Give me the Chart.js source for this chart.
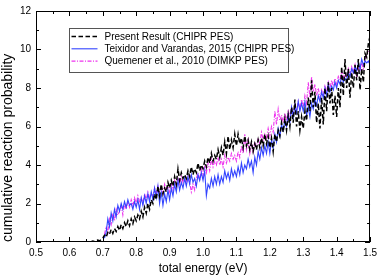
<!DOCTYPE html>
<html>
<head>
<meta charset="utf-8">
<script src="https://cdn.jsdelivr.net/npm/chart.js@4"></script>
<style>
  html, body { margin: 0; padding: 0; background: #fff; }
  #wrap { width: 382px; height: 276px; }
</style>
</head>
<body>
<div id="wrap"><canvas id="chart" width="382" height="276"></canvas></div>
<script>
// total energy grid (eV)
const energy = [
  0.600,0.605,0.610,0.615,0.620,0.625,0.630,0.635,0.640,0.645,
  0.650,0.655,0.660,0.665,0.670,0.675,0.680,0.685,0.690,0.695,
  0.700,0.705,0.710,0.715,0.720,0.725,0.730,0.735,0.740,0.745,
  0.750,0.755,0.760,0.765,0.770,0.775,0.780,0.785,0.790,0.795,
  0.800,0.805,0.810,0.815,0.820,0.825,0.830,0.835,0.840,0.845,
  0.850,0.855,0.860,0.865,0.870,0.875,0.880,0.885,0.890,0.895,
  0.900,0.905,0.910,0.915,0.920,0.925,0.930,0.935,0.940,0.945,
  0.950,0.955,0.960,0.965,0.970,0.975,0.980,0.985,0.990,0.995,
  1.000,1.005,1.010,1.015,1.020,1.025,1.030,1.035,1.040,1.045,
  1.050,1.055,1.060,1.065,1.070,1.075,1.080,1.085,1.090,1.095,
  1.100,1.105,1.110,1.115,1.120,1.125,1.130,1.135,1.140,1.145,
  1.150,1.155,1.160,1.165,1.170,1.175,1.180,1.185,1.190,1.195,
  1.200,1.205,1.210,1.215,1.220,1.225,1.230,1.235,1.240,1.245,
  1.250,1.255,1.260,1.265,1.270,1.275,1.280,1.285,1.290,1.295,
  1.300,1.305,1.310,1.315,1.320,1.325,1.330,1.335,1.340,1.345,
  1.350,1.355,1.360,1.365,1.370,1.375,1.380,1.385,1.390,1.395,
  1.400,1.405,1.410,1.415,1.420,1.425,1.430,1.435,1.440,1.445,
  1.450,1.455,1.460,1.465,1.470,1.475,1.480,1.485,1.490,1.495,
  1.500
];

// Present Result (CHIPR PES)
const present = [
  0,0,0,0,0,0,0,0,0,0,
  0,0,0,0.02,0.05,0.03,0.08,0.1,0.06,0.12,
  0.2,0.35,0.25,0.5,0.4,0.65,0.45,0.7,0.55,0.8,
  0.6,0.9,0.7,1.0,0.8,1.1,0.85,1.2,0.95,1.3,
  1.1,1.4,1.2,1.6,1.3,1.8,1.5,2.0,1.7,2.2,
  2.0,2.5,2.2,2.9,2.4,3.0,2.5,2.8,2.6,3.1,
  2.8,3.2,2.9,3.4,3.0,3.8,3.2,3.6,3.3,3.5,
  3.3,3.7,3.4,3.9,3.5,3.8,3.6,4.1,3.7,4.0,
  3.8,4.2,3.9,4.4,4.1,4.6,4.2,4.5,4.3,4.8,
  4.4,4.9,4.5,5.2,4.6,5.5,4.8,5.3,4.9,5.6,
  5.0,5.6,5.1,5.4,4.9,5.5,5.0,5.3,4.8,5.2,
  4.7,5.1,4.8,5.3,4.9,5.4,5.0,5.6,5.1,5.5,
  4.9,5.4,4.7,5.6,5.2,5.8,5.5,6.2,5.7,6.4,
  5.8,6.6,6.0,7.0,6.2,7.4,6.0,6.8,5.8,6.5,
  5.9,6.8,6.3,7.5,6.8,8.4,7.0,7.8,6.2,7.2,
  5.9,7.5,6.1,8.0,6.8,8.3,7.2,8.0,6.6,7.6,
  6.5,8.0,7.0,9.1,7.6,9.5,8.0,9.0,7.5,8.8,
  8.0,9.2,8.4,9.5,7.9,9.0,8.3,9.8,9.6,10.3,
  10.7
];

// Teixidor and Varandas, 2015 (CHIPR PES)
const teixidor = [
  null,null,null,null,null,null,null,null,null,null,
  null,null,null,null,null,null,null,null,null,null,
  null,0.2,0.5,1.2,0.8,1.5,1.1,1.7,1.3,1.9,
  1.6,2.0,1.7,2.1,1.8,2.2,1.9,2.0,1.7,2.1,
  1.8,2.2,1.7,2.3,1.9,2.4,2.0,2.5,2.1,2.6,
  2.2,2.8,2.3,2.9,2.0,2.6,1.9,2.5,2.1,2.7,
  2.2,2.8,2.4,3.0,2.6,3.2,2.7,3.1,2.8,3.3,
  2.9,3.4,3.0,3.5,3.1,3.3,2.9,3.5,3.2,3.6,
  3.2,3.7,2.4,3.0,2.8,3.3,2.9,3.4,3.0,3.5,
  3.0,3.4,3.1,3.7,3.3,3.6,3.2,3.8,3.4,3.7,
  3.4,3.9,3.5,4.1,3.6,4.0,3.8,4.3,3.9,4.2,
  3.6,4.4,4.0,4.7,4.3,4.9,4.5,5.0,4.6,5.2,
  4.6,5.3,4.9,5.6,5.2,5.9,5.5,6.1,5.8,6.3,
  6.0,6.6,6.2,7.0,6.5,7.1,6.7,7.3,6.8,7.2,
  6.8,7.3,6.6,7.0,6.5,7.2,6.9,7.4,7.1,7.6,
  7.3,7.8,7.5,8.0,7.6,8.2,7.8,8.1,7.9,8.3,
  8.0,8.4,8.2,8.6,8.3,8.5,8.4,8.8,8.6,9.0,
  8.8,9.1,8.9,9.3,9.0,9.5,9.2,9.4,9.3,9.4,
  9.2
];

// Quemener et al., 2010 (DIMKP PES)
const quemener = [
  null,null,null,null,null,null,null,null,null,null,
  null,null,null,null,null,null,null,null,null,null,
  null,0.4,0.8,0.5,1.2,0.9,1.5,1.1,1.7,1.4,
  1.6,1.9,1.4,2.0,1.7,2.1,1.8,2.2,1.9,2.3,
  2.0,2.4,2.1,2.3,2.0,2.5,2.2,2.6,2.3,2.5,
  2.4,2.8,2.5,2.9,2.6,2.8,2.5,3.0,2.7,2.9,
  2.6,3.0,2.7,3.2,2.9,3.3,3.0,3.4,3.1,3.3,
  3.0,3.4,3.1,2.6,3.0,2.7,3.3,3.6,3.2,3.8,
  3.4,3.9,3.6,4.1,3.7,4.3,3.9,4.2,4.0,4.4,
  4.0,4.3,3.9,4.5,4.1,4.4,4.2,4.6,4.3,4.5,
  4.2,4.7,4.4,5.0,4.6,5.6,4.8,5.3,4.6,5.1,
  4.7,5.2,4.9,5.4,5.1,5.7,5.3,5.6,5.4,5.9,
  5.5,6.0,5.7,6.8,6.1,6.9,6.3,6.6,6.2,6.7,
  6.3,6.8,6.5,7.0,6.6,7.2,6.8,7.3,6.9,7.4,
  7.0,7.6,7.2,8.3,7.5,8.6,7.8,8.2,7.6,8.0,
  7.5,7.9,7.6,8.1,7.8,8.3,8.0,8.4,8.1,8.5,
  8.2,8.6,8.4,8.9,8.5,8.8,8.6,9.0,8.7,9.1,
  8.8,9.2,8.6,9.1,8.9,9.3,9.0,9.5,9.7,9.9,
  9.9
];

const seriesLabels = [
  'Present Result (CHIPR PES)',
  'Teixidor and Varandas, 2015 (CHIPR PES)',
  'Quemener et al., 2010 (DIMKP PES)'
];

const FONT = "'Liberation Sans', Arial, Helvetica, sans-serif";

function toPoints(ys) {
  return energy.map((e, i) => ({x: e, y: ys[i]}));
}

// inward ticks on all four sides + full frame
const frameTicks = {
  id: 'frameTicks',
  afterDraw(chart) {
    const {ctx, chartArea: a, scales: {x, y}} = chart;
    ctx.save();
    ctx.strokeStyle = '#000';
    ctx.lineWidth = 1;
    ctx.strokeRect(Math.round(a.left) + 0.5, Math.round(a.top) + 0.5,
                   Math.round(a.right - a.left) - 1, Math.round(a.bottom - a.top) - 1);

    const xt = x.ticks.map(t => t.value);
    const yt = y.ticks.map(t => t.value);
    ctx.beginPath();
    const xTick = (v, len) => {
      const px = Math.round(x.getPixelForValue(v)) + 0.5;
      ctx.moveTo(px, a.bottom); ctx.lineTo(px, a.bottom - len);
      ctx.moveTo(px, a.top); ctx.lineTo(px, a.top + len);
    };
    const yTick = (v, len) => {
      const py = Math.round(y.getPixelForValue(v)) + 0.5;
      ctx.moveTo(a.left, py); ctx.lineTo(a.left + len, py);
      ctx.moveTo(a.right, py); ctx.lineTo(a.right - len, py);
    };
    xt.forEach((v, i) => {
      xTick(v, 5);
      if (i < xt.length - 1) xTick((v + xt[i + 1]) / 2, 3);
    });
    yt.forEach((v, i) => {
      yTick(v, 5);
      if (i < yt.length - 1) yTick((v + yt[i + 1]) / 2, 3);
    });
    ctx.stroke();
    ctx.restore();
  }
};

// legend box inside the plot
const insideLegend = {
  id: 'insideLegend',
  afterDraw(chart) {
    const {ctx, chartArea: a} = chart;
    const bx = Math.round(a.left + 33) + 0.5;
    const by = Math.round(a.top + 17) + 0.5;
    const bw = 219, bh = 44;
    ctx.save();
    ctx.fillStyle = '#fff';
    ctx.fillRect(bx, by, bw, bh);
    ctx.strokeStyle = '#555';
    ctx.lineWidth = 1;
    ctx.strokeRect(bx, by, bw, bh);
    ctx.font = '10px ' + FONT;
    ctx.textBaseline = 'middle';
    chart.data.datasets.forEach((ds, i) => {
      const ry = by + 8 + i * 12.3;
      ctx.beginPath();
      ctx.strokeStyle = ds.borderColor;
      ctx.lineWidth = ds.borderWidth;
      ctx.setLineDash(ds.borderDash || []);
      ctx.moveTo(bx + 2, ry);
      ctx.lineTo(bx + 28, ry);
      ctx.stroke();
      ctx.setLineDash([]);
      ctx.fillStyle = '#000';
      ctx.fillText(ds.label, bx + 35, ry + 0.5);
    });
    ctx.restore();
  }
};

new Chart(document.getElementById('chart'), {
  type: 'line',
  data: {
    datasets: [{
      label: seriesLabels[0],
      data: toPoints(present),
      borderColor: '#000000',
      borderWidth: 1.5,
      borderDash: [4.5, 2.5],
      pointRadius: 0,
      tension: 0,
      order: 1
    }, {
      label: seriesLabels[1],
      data: toPoints(teixidor),
      borderColor: '#3344ff',
      borderWidth: 1.1,
      pointRadius: 0,
      tension: 0,
      order: 2
    }, {
      label: seriesLabels[2],
      data: toPoints(quemener),
      borderColor: '#ee33ee',
      borderWidth: 1.1,
      borderDash: [4, 1.5, 1, 1.5],
      pointRadius: 0,
      tension: 0,
      order: 3
    }]
  },
  options: {
    responsive: false,
    animation: false,
    spanGaps: false,
    layout: { padding: { top: 6, right: 8, left: 0, bottom: 0 } },
    plugins: {
      legend: { display: false },
      tooltip: { enabled: false }
    },
    scales: {
      x: {
        type: 'linear',
        min: 0.5,
        max: 1.5,
        afterFit: s => { s.height = 34; },
        ticks: {
          stepSize: 0.1,
          color: '#000',
          padding: 5,
          maxRotation: 0,
          font: { family: FONT, size: 10 },
          callback: v => v.toFixed(1)
        },
        grid: { display: false, drawTicks: false },
        border: { display: false },
        title: {
          display: true,
          text: 'total energy (eV)',
          color: '#000',
          padding: { top: 1, bottom: 0 },
          font: { family: FONT, size: 12 }
        }
      },
      y: {
        min: 0,
        max: 12,
        afterFit: s => { s.width = 36; },
        ticks: {
          stepSize: 2,
          color: '#000',
          padding: 5,
          font: { family: FONT, size: 10 }
        },
        grid: { display: false, drawTicks: false },
        border: { display: false },
        title: {
          display: true,
          text: 'cumulative reaction probability',
          align: 'start',
          color: '#000',
          padding: { top: 0, bottom: 0 },
          font: { family: FONT, size: 14 }
        }
      }
    }
  },
  plugins: [frameTicks, insideLegend]
});
</script>
</body>
</html>
